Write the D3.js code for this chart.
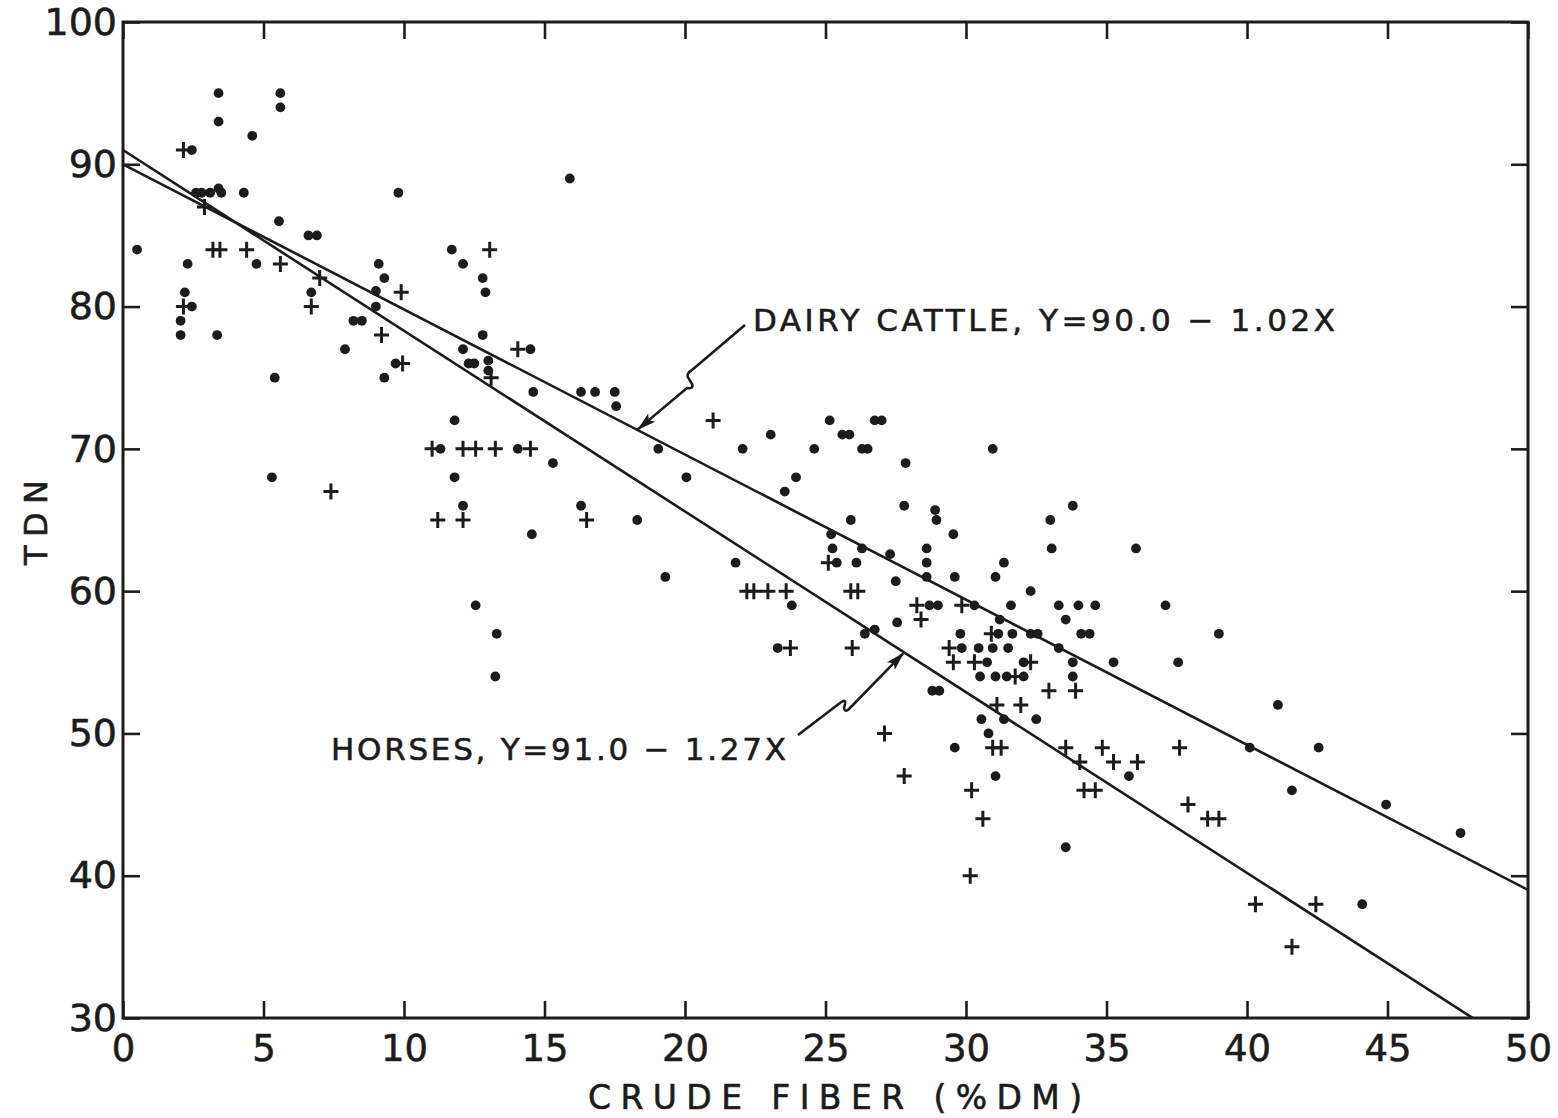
<!DOCTYPE html>
<html>
<head>
<meta charset="utf-8">
<script src="https://cdn.jsdelivr.net/npm/d3@7/dist/d3.min.js"></script>
<style>
  html, body { margin: 0; padding: 0; background: #fff; }
  svg { display: block; }
  text { font-family: "DejaVu Sans", sans-serif; fill: #1c1c1c; stroke: #1c1c1c; stroke-width: 0.6px; }
</style>
</head>
<body>
<svg id="chart" width="1558" height="1118"></svg>
<script>
// Dairy cattle feeds: crude fiber (% DM) and TDN
const dairyFiber = [
  3.4, 5.6, 5.6, 3.4, 4.6, 2.45, 2.6, 2.8, 3.1, 3.4, 3.5, 4.3, 9.8, 15.9,
  5.55, 6.6, 6.9, 0.5, 11.7, 2.3, 4.75, 9.1, 12.1, 9.3, 12.8, 2.2, 6.7, 9.0,
  12.9, 2.45, 9.0, 8.2, 8.5, 2.05, 2.05, 3.35, 12.8, 7.9, 12.1, 14.5, 9.7,
  12.3, 12.5, 13.0, 13.0, 5.4, 9.3, 14.6, 16.3, 16.8, 17.5, 17.55, 11.8,
  11.3, 14.05, 19.05, 15.3, 5.3, 11.8, 20.05, 12.1, 16.3, 18.3, 14.55, 19.3,
  12.55, 13.3, 13.25,
  25.15, 26.75, 27.0, 23.05, 25.6, 25.85, 22.05, 24.6, 26.3, 26.5, 30.95,
  27.85, 23.95, 23.55, 27.8, 33.8, 28.9, 25.9, 28.95, 33.0, 29.55, 25.2,
  25.25, 26.3, 28.6, 33.05, 36.05, 27.3, 21.8, 25.4, 26.1, 28.6, 31.35,
  28.6, 27.5, 29.6, 31.05, 32.3, 23.8, 28.7, 29.0, 30.3, 31.6, 33.3, 34.0,
  34.6, 37.1, 27.55, 31.2, 33.55, 26.75, 26.4, 31.15, 29.8, 31.65, 32.3,
  32.55, 34.1, 34.4, 39.0, 23.3, 29.85, 30.45, 30.95, 31.5, 33.3, 30.75,
  32.05, 33.8, 35.25, 37.55, 30.5, 31.05, 31.45, 32.05, 33.8, 28.8, 29.05,
  30.55, 31.35, 32.5, 30.8, 29.6, 31.05, 35.8, 41.1, 40.1, 42.55, 41.6,
  44.95, 47.6, 33.55, 44.1
];
const dairyTdn = [
  95, 95, 94, 93, 92, 91, 88, 88, 88, 88.3, 88, 88, 88, 89,
  86, 85, 85, 84, 84, 83, 83, 83, 83, 82, 82, 81, 81, 81.1,
  81, 80, 80, 79, 79, 79, 78, 78, 78, 77, 77, 77, 76,
  76, 76, 76.2, 75.5, 75, 75, 74, 74, 74, 74, 73, 72,
  70, 70, 70, 69, 68, 68, 68, 66, 66, 65, 64, 61,
  59, 57, 54,
  72, 72, 72, 71, 71, 71, 70, 70, 70, 70, 70,
  69, 68, 67, 66, 66, 65.7, 65, 65, 65, 64, 64,
  63, 63, 63, 63, 63, 62.6, 62, 62, 62, 62, 62,
  61, 60.7, 61, 61, 60, 59, 59, 59, 59, 59, 59, 59,
  59, 59, 57.8, 58, 58, 57.3, 57, 57, 57, 57, 57,
  57, 57, 57, 57, 56, 56, 56, 56, 56, 56, 55,
  55, 55, 55, 55, 54, 54, 54, 54, 54, 53, 53,
  51, 51, 51, 50, 49, 47, 47, 52, 49, 49, 46,
  45, 43, 42, 38
];

// Horse feeds: crude fiber (% DM) and TDN
const horseFiber = [
  2.15, 2.9, 3.2, 3.45, 4.4, 5.6, 7.0, 9.9, 2.15, 6.7, 9.2, 9.95, 13.05,
  14.05, 13.1, 7.4, 11.0, 12.1, 12.55, 13.25, 14.5, 21.0, 11.2, 12.1, 16.5,
  25.1, 22.2, 22.45, 22.95, 23.6, 25.9, 26.15, 28.25, 29.85, 28.4, 30.9,
  23.75, 25.95, 29.4, 29.55, 30.3, 32.3, 31.75, 32.95, 33.9, 31.1, 31.95,
  27.1, 30.95, 31.25, 33.55, 34.85, 37.6, 34.05, 35.25, 36.1, 27.8, 30.2,
  34.2, 34.6, 37.9, 30.6, 38.6, 39.0, 30.15, 40.3, 42.45, 41.6
];
const horseTdn = [
  91, 87, 84, 84, 84, 83, 82, 81, 80, 80, 78, 76, 84,
  77, 75, 67, 70, 70, 70, 70, 70, 72, 65, 65, 65,
  62, 60, 60, 60, 60, 60, 60, 59, 59, 58, 57,
  56, 56, 56, 55, 55, 55, 54, 53, 53, 52, 52,
  50, 49, 49, 49, 49, 49, 48, 48, 48, 47, 46,
  46, 46, 45, 44, 44, 44, 40, 38, 38, 35
];

// Fitted lines: TDN = intercept + slope * fiber
const dairyFit = { intercept: 90.0, slope: -1.02 };
const horseFit = { intercept: 91.0, slope: -1.27 };

const xTicks = [0, 5, 10, 15, 20, 25, 30, 35, 40, 45, 50];
const yTicks = [30, 40, 50, 60, 70, 80, 90, 100];
const xTitle = "CRUDE FIBER (%DM)";
const yTitle = "TDN";
const dairyLabel = "DAIRY CATTLE, Y=90.0 \u2212 1.02X";
const horseLabel = "HORSES, Y=91.0 \u2212 1.27X";

const ink = "#1c1c1c";
const svg = d3.select("#chart");
const plot = { left: 123, top: 22, right: 1528, bottom: 1018 };

const x = d3.scaleLinear().domain([0, 50]).range([plot.left, plot.right]);
const y = d3.scaleLinear().domain([30, 100]).range([plot.bottom, plot.top]);

// Plot area clip so the fitted lines stop at the frame
svg.append("defs").append("clipPath").attr("id", "plotClip")
  .append("rect")
  .attr("x", plot.left).attr("y", plot.top)
  .attr("width", plot.right - plot.left).attr("height", plot.bottom - plot.top);

// Axes with inward ticks on all four sides
const tickLen = 17;
function styleAxis(g) {
  g.select(".domain").remove();
  g.selectAll(".tick line").attr("stroke", ink).attr("stroke-width", 2.6);
}
svg.append("g").attr("transform", `translate(0,${plot.bottom})`)
  .call(d3.axisBottom(x).tickValues(xTicks).tickSize(-tickLen).tickPadding(17).tickFormat(d3.format("d")))
  .call(styleAxis)
  .call(g => g.selectAll(".tick text").attr("font-size", 37).attr("fill", ink)
    .attr("font-family", "'DejaVu Sans', sans-serif"));
svg.append("g").attr("transform", `translate(0,${plot.top})`)
  .call(d3.axisTop(x).tickValues(xTicks).tickSize(-tickLen).tickFormat(""))
  .call(styleAxis);
svg.append("g").attr("transform", `translate(${plot.left},0)`)
  .call(d3.axisLeft(y).tickValues(yTicks).tickSize(-tickLen).tickPadding(6).tickFormat(d3.format("d")))
  .call(styleAxis)
  .call(g => g.selectAll(".tick text").attr("font-size", 38).attr("fill", ink)
    .attr("font-family", "'DejaVu Sans', sans-serif"));
svg.append("g").attr("transform", `translate(${plot.right},0)`)
  .call(d3.axisRight(y).tickValues(yTicks).tickSize(-tickLen).tickFormat(""))
  .call(styleAxis);

// Frame
svg.append("rect")
  .attr("x", plot.left).attr("y", plot.top)
  .attr("width", plot.right - plot.left).attr("height", plot.bottom - plot.top)
  .attr("fill", "none").attr("stroke", ink).attr("stroke-width", 3);

// Regression lines
const fits = [dairyFit, horseFit];
svg.append("g").attr("clip-path", "url(#plotClip)")
  .selectAll("line").data(fits).join("line")
  .attr("x1", x(0)).attr("y1", d => y(d.intercept))
  .attr("x2", x(50)).attr("y2", d => y(d.intercept + d.slope * 50))
  .attr("stroke", ink).attr("stroke-width", 2.6);

// Dairy cattle points (dots)
const dairy = dairyFiber.map((f, i) => ({ f, t: dairyTdn[i] }));
svg.append("g").selectAll("circle").data(dairy).join("circle")
  .attr("cx", d => x(d.f)).attr("cy", d => y(d.t)).attr("r", 4.9)
  .attr("fill", ink);

// Horse points (crosses)
const horse = horseFiber.map((f, i) => ({ f, t: horseTdn[i] }));
svg.append("g").selectAll("path").data(horse).join("path")
  .attr("transform", d => `translate(${x(d.f)},${y(d.t)})`)
  .attr("d", "M-7.5,0H7.5M0,-8V8")
  .attr("stroke", ink).attr("stroke-width", 3).attr("fill", "none");

// Equation labels with broken leader arrows
function arrowHead(tip, from, len, half) {
  const dx = tip[0] - from[0], dy = tip[1] - from[1];
  const L = Math.hypot(dx, dy), ux = dx / L, uy = dy / L;
  const bx = tip[0] - ux * len, by = tip[1] - uy * len;
  return `M${tip[0]},${tip[1]}L${bx - uy * half},${by + ux * half}L${bx + ux * 4},${by + uy * 4}L${bx + uy * half},${by - ux * half}Z`;
}
function leader(fiber, fit, start, kink) {
  const tip = [x(fiber), y(fit.intercept + fit.slope * fiber)];
  const g = svg.append("g");
  g.append("path").attr("d", kink(start, tip))
    .attr("fill", "none").attr("stroke", ink).attr("stroke-width", 2.6)
    .attr("stroke-linejoin", "round");
  return { g, tip };
}

// Dairy leader: from label down-left to the dairy line
{
  const start = [745, 325];
  const { g, tip } = leader(18.3, dairyFit, start, (s, t) =>
    `M${s[0]},${s[1]}L692,370Q685,374 689,379L692,384Q694,389 687,388L${t[0]},${t[1]}`);
  g.append("path").attr("d", arrowHead(tip, [687, 388], 19, 5.5)).attr("fill", ink);
}
// Horse leader: from label up-right to the horse line
{
  const start = [798, 735];
  const { g, tip } = leader(27.8, horseFit, start, (s, t) =>
    `M${s[0]},${s[1]}L840,703Q846,698 845,704L844,708Q845,713 849,709L${t[0]},${t[1]}`);
  g.append("path").attr("d", arrowHead(tip, [849, 709], 19, 5.5)).attr("fill", ink);
}

svg.append("text").attr("x", 753).attr("y", 331)
  .attr("font-size", 31).attr("textLength", 582).attr("lengthAdjust", "spacing")
  .text(dairyLabel);
svg.append("text").attr("x", 331).attr("y", 760)
  .attr("font-size", 31).attr("textLength", 455).attr("lengthAdjust", "spacing")
  .text(horseLabel);

// Axis titles
svg.append("text").attr("x", 588).attr("y", 1109)
  .attr("font-size", 33).attr("textLength", 494).attr("lengthAdjust", "spacing")
  .text(xTitle);
svg.append("text")
  .attr("transform", "translate(47,565) rotate(-90)")
  .attr("font-size", 32).attr("textLength", 85).attr("lengthAdjust", "spacing")
  .text(yTitle);
</script>
</body>
</html>
